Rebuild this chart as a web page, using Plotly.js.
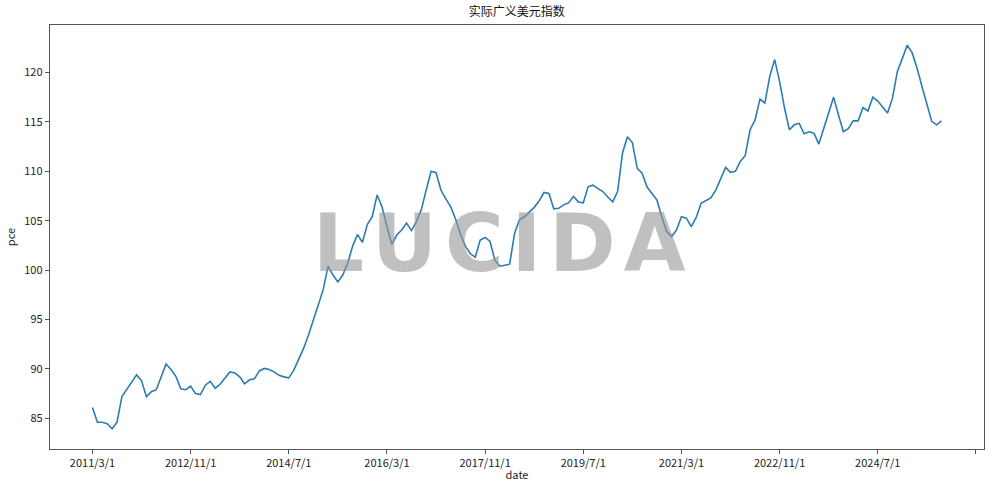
<!DOCTYPE html>
<html>
<head>
<meta charset="utf-8">
<script src="https://cdn.plot.ly/plotly-3.0.1.min.js"></script>
<style>html,body{margin:0;padding:0;background:#fff;}#chart{width:994px;height:482px;}</style>
</head>
<body>
<div id="chart"></div>
<script>
// Monthly series starting 2011/3/1
const startYear = 2011;
const startMonth = 3;
const pce = [
  86.1, 84.6, 84.6, 84.45, 83.95, 84.6, 87.2, 87.9, 88.7, 89.4,
  88.8, 87.2, 87.7, 87.9, 89.2, 90.5, 89.95, 89.25, 88.0, 87.9,
  88.25, 87.5, 87.4, 88.35, 88.75, 88.05, 88.45, 89.1, 89.7, 89.6,
  89.2, 88.5, 88.9, 89.0, 89.8, 90.05, 89.95, 89.7, 89.35, 89.2,
  89.1, 89.85, 90.9, 92.05, 93.4, 94.9, 96.6, 98.0, 100.4, 99.5,
  98.8, 99.5, 100.7, 102.4, 103.6, 102.8, 104.6, 105.4, 107.6, 106.4,
  104.4, 102.6, 103.55, 104.05, 104.75, 104.0, 104.9, 106.1, 108.1, 110.0,
  109.85, 108.1, 107.2, 106.4, 105.15, 103.6, 102.4, 101.65, 101.3, 103.05,
  103.3, 102.9, 101.0, 100.4, 100.5, 100.6, 103.7, 105.1, 105.4, 105.85,
  106.35, 107.0, 107.85, 107.75, 106.2, 106.25, 106.6, 106.8, 107.45, 106.9,
  106.8, 108.45, 108.6, 108.25, 107.95, 107.4, 106.9, 107.95, 111.85, 113.5,
  112.9, 110.3, 109.8, 108.4, 107.8, 107.1, 105.4, 103.9, 103.4, 104.05,
  105.4, 105.25, 104.4, 105.3, 106.75, 107.05, 107.3, 108.1, 109.3, 110.4,
  109.9, 110.0, 111.0, 111.6, 114.2, 115.2, 117.3, 116.9, 119.6, 121.3,
  119.1, 116.4, 114.2, 114.7, 114.85, 113.8, 114.0, 113.85, 112.75, 114.3,
  115.9, 117.5, 115.7, 114.0, 114.3, 115.1, 115.1, 116.45, 116.1, 117.5,
  117.1, 116.45, 115.9, 117.4, 120.1, 121.4, 122.75, 122.0, 120.45, 118.6,
  116.75, 115.05, 114.7, 115.1
];

// date labels, one per month
const dates = [];
for (let i = 0; i < pce.length; i++) {
  const m0 = startMonth - 1 + i;
  dates.push((startYear + Math.floor(m0 / 12)) + '/' + (m0 % 12 + 1) + '/1');
}
const idx = dates.map((d, i) => i);

// tick positions every 20 months (last one beyond data, unlabeled)
const tickStep = 20;
const tickVals = [];
const tickText = [];
for (let t = 0; t <= pce.length + 6; t += tickStep) {
  tickVals.push(t);
  tickText.push(t < dates.length ? dates[t] : '');
}

const font = 'Noto Sans CJK SC, DejaVu Sans, sans-serif';

const trace = {
  x: idx,
  y: pce,
  type: 'scatter',
  mode: 'lines',
  line: {color: '#2d7cae', width: 1.6},
  text: dates,
  hoverinfo: 'text+y'
};

const axisCommon = {
  showgrid: false,
  zeroline: false,
  showline: true,
  linecolor: '#555',
  linewidth: 1.2,
  mirror: true,
  ticks: 'outside',
  ticklen: 4,
  tickwidth: 1,
  tickcolor: '#555',
  tickfont: {family: font, size: 11, color: '#222'}
};

const watermark = 'L\u200AU\u200AC\u200AI\u200AD\u200AA';

const layout = {
  width: 994,
  height: 482,
  margin: {l: 50, r: 10, t: 25, b: 33},
  paper_bgcolor: '#fff',
  plot_bgcolor: '#fff',
  showlegend: false,
  title: {
    text: '实际广义美元指数',
    font: {family: font, size: 12, color: '#111'},
    x: 0.52, xanchor: 'center', y: 0.985, yanchor: 'top'
  },
  xaxis: Object.assign({}, axisCommon, {
    range: [-8.65, 181.65],
    tickmode: 'array',
    tickvals: tickVals,
    ticktext: tickText,
    title: {text: 'date', font: {family: font, size: 11, color: '#222'}, standoff: 2}
  }),
  yaxis: Object.assign({}, axisCommon, {
    range: [81.9, 124.8],
    tickmode: 'array',
    tickvals: [85, 90, 95, 100, 105, 110, 115, 120],
    title: {text: 'pce', font: {family: font, size: 11, color: '#222'}, standoff: 6}
  }),
  annotations: [{
    text: '<b>' + watermark + '</b>',
    xref: 'paper', yref: 'paper',
    x: 0.481, y: 0.485,
    xanchor: 'center', yanchor: 'middle',
    showarrow: false,
    font: {family: 'DejaVu Sans, sans-serif', size: 80, color: 'rgba(150,150,150,0.6)'}
  }]
};

Plotly.newPlot('chart', [trace], layout, {displayModeBar: false, staticPlot: true});
</script>
</body>
</html>
